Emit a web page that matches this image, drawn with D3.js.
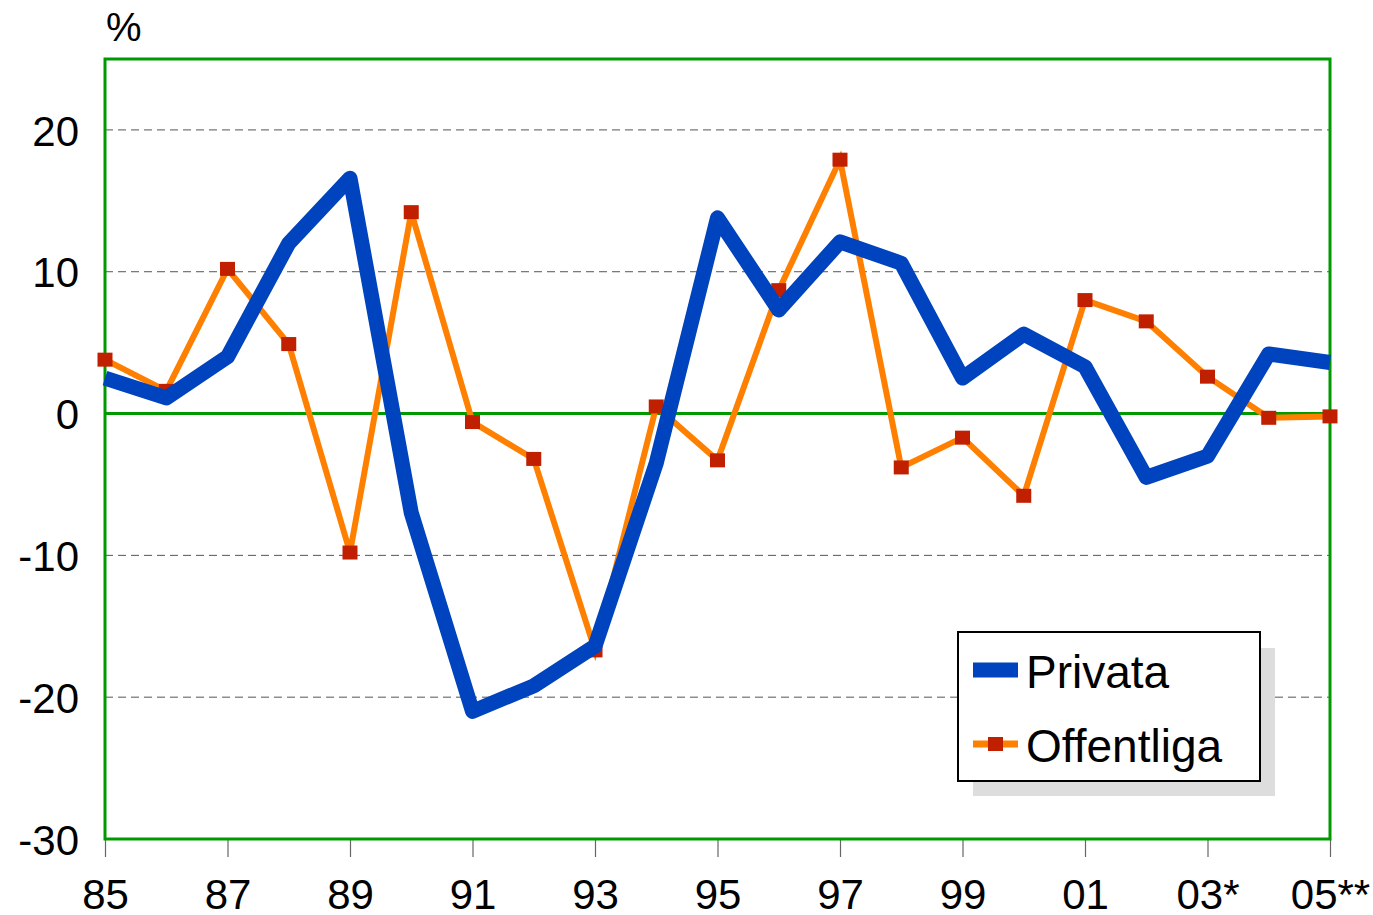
<!DOCTYPE html>
<html><head><meta charset="utf-8">
<script src="https://cdn.jsdelivr.net/npm/d3@7"></script>
<style>
html,body{margin:0;padding:0;background:#fff;}
svg text{font-family:"Liberation Sans",Arial,Helvetica,sans-serif;fill:#000;}
</style></head>
<body><svg id="c" width="1373" height="915"></svg>
<script>
const years = ["85","86","87","88","89","90","91","92","93","94","95","96","97","98","99","00","01","02","03","04","05"];
const tickLabels = ["85","87","89","91","93","95","97","99","01","03*","05**"];
const privata = [2.5,1.1,4.0,12.0,16.6,-7.0,-21.0,-19.2,-16.4,-3.5,13.8,7.3,12.1,10.6,2.5,5.6,3.3,-4.5,-3.0,4.2,3.6];
const offentliga = [3.8,1.6,10.2,4.9,-9.8,14.2,-0.6,-3.2,-16.7,0.5,-3.3,8.7,17.9,-3.8,-1.7,-5.8,8.0,6.5,2.6,-0.3,-0.2];
const yTicks = [-30,-20,-10,0,10,20];
const seriesNames = ["Privata","Offentliga"];

const svg = d3.select("#c");
const L = 105, R = 1330, T = 59, B = 839;
const x = d3.scaleLinear().domain([0, years.length-1]).range([L, R]);
const y = d3.scaleLinear().domain([-30, 25]).range([B, T]);

// gridlines
svg.append("g").selectAll("line").data(yTicks.filter(v => v !== 0 && v !== -30)).join("line")
  .attr("x1", L).attr("x2", R).attr("y1", d => y(d)).attr("y2", d => y(d))
  .attr("stroke", "#555").attr("stroke-width", 1).attr("stroke-dasharray", "8,5");

// y axis labels
const yAxis = d3.axisLeft(y).tickValues(yTicks).tickSize(0).tickPadding(26).tickFormat(d => String(d));
const gy = svg.append("g").attr("transform", `translate(${L},0)`).call(yAxis);
gy.select(".domain").remove();
gy.selectAll("text").attr("font-size", 42).attr("dy", "0.36em").style("font-family", '"Liberation Sans",Arial,sans-serif');

// x axis
const tickIdx = tickLabels.map((t, i) => i * 2);
const xAxis = d3.axisBottom(x).tickValues(tickIdx).tickSize(18).tickPadding(22)
  .tickFormat((d, i) => tickLabels[i]);
const gx = svg.append("g").attr("transform", `translate(0,${B})`).call(xAxis);
gx.select(".domain").remove();
gx.selectAll("line").attr("stroke", "#666").attr("stroke-width", 1.2);
gx.selectAll("text").attr("font-size", 42).style("font-family", '"Liberation Sans",Arial,sans-serif');

// zero line
svg.append("line").attr("x1", L).attr("x2", R).attr("y1", y(0)).attr("y2", y(0))
  .attr("stroke", "#009900").attr("stroke-width", 3);

// frame
svg.append("rect").attr("x", L).attr("y", T).attr("width", R - L).attr("height", B - T)
  .attr("fill", "none").attr("stroke", "#009900").attr("stroke-width", 3);

// % label
svg.append("text").attr("x", 106).attr("y", 41).attr("font-size", 40).text("%");

const line = d3.line().x((d, i) => x(i)).y(d => y(d));

// Offentliga
svg.append("path").datum(offentliga).attr("d", line).attr("fill", "none")
  .attr("stroke", "#ff8000").attr("stroke-width", 6).attr("stroke-linejoin", "miter");
svg.append("g").selectAll("rect").data(offentliga).join("rect")
  .attr("x", (d, i) => x(i) - 7.5).attr("y", d => y(d) - 7).attr("width", 15).attr("height", 14)
  .attr("fill", "#c02000");

// Privata
svg.append("path").datum(privata).attr("d", line).attr("fill", "none")
  .attr("stroke", "#0043be").attr("stroke-width", 15).attr("stroke-linejoin", "round");

// legend
const lg = svg.append("g");
lg.append("rect").attr("x", 973).attr("y", 648).attr("width", 302).attr("height", 148).attr("fill", "#dddddd");
lg.append("rect").attr("x", 958).attr("y", 632).attr("width", 302).attr("height", 149)
  .attr("fill", "#fff").attr("stroke", "#000").attr("stroke-width", 2);
lg.append("line").attr("x1", 973).attr("x2", 1018).attr("y1", 670).attr("y2", 670)
  .attr("stroke", "#0043be").attr("stroke-width", 15);
lg.append("line").attr("x1", 973).attr("x2", 1018).attr("y1", 744).attr("y2", 744)
  .attr("stroke", "#ff8000").attr("stroke-width", 7);
lg.append("rect").attr("x", 988).attr("y", 737).attr("width", 15).attr("height", 14).attr("fill", "#c02000");
lg.append("text").attr("x", 1026).attr("y", 688).attr("font-size", 46).text(seriesNames[0]);
lg.append("text").attr("x", 1026).attr("y", 762).attr("font-size", 46).text(seriesNames[1]);
</script></body></html>
